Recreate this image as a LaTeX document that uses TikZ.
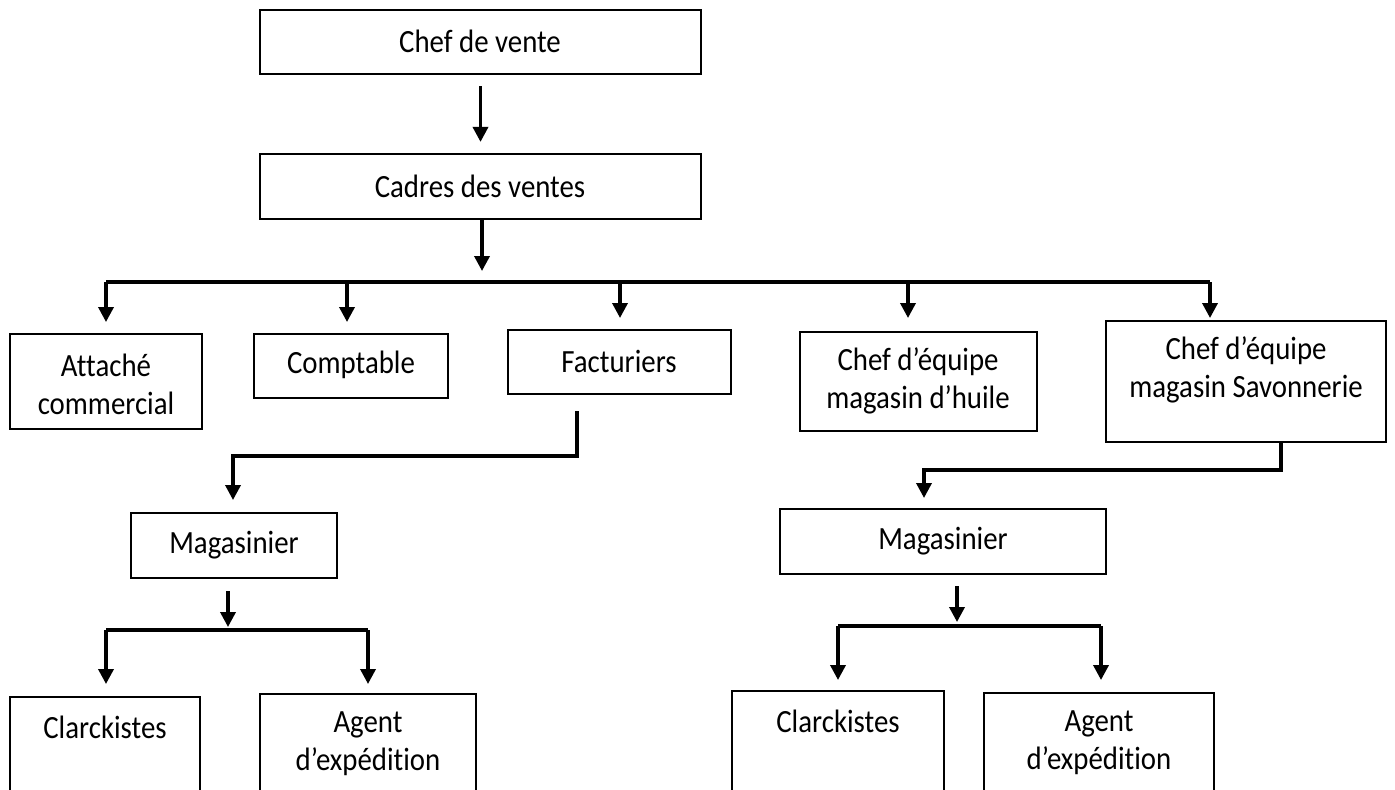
\documentclass[tikz,border=0pt]{standalone}
\usepackage{fontspec}
\setmainfont{Carlito}[Ligatures=CommonOff, FakeStretch=0.89]
\usetikzlibrary{arrows.meta,fit}
\begin{document}
\begin{tikzpicture}[x=0.5pt,y=-0.5pt,
  font=\fontsize{16.2}{19}\selectfont,
  box/.style={draw, line width=1.1pt, inner sep=0pt},
  lbl/.style={inner sep=0pt, align=center},
  link/.style={line width=1.75pt},
  arr/.style={line width=1.75pt, -{Triangle[width=7.5pt,length=7.5pt]}}]
\useasboundingbox (0,0) rectangle (1395,789);
\clip (0,0) rectangle (1395,789);

% --- boxes ---
\node[box, fit={(260,10) (701,74)}] (chef) {};
\node[box, fit={(260,154) (701,219)}] (cadres) {};
\node[box, fit={(10,334) (202,429)}] (attache) {};
\node[box, fit={(254,334) (448,398)}] (comptable) {};
\node[box, fit={(508,330) (731,394)}] (factu) {};
\node[box, fit={(800,332) (1037,431)}] (huile) {};
\node[box, fit={(1106,321) (1386,442)}] (savon) {};
\node[box, fit={(131,513) (337,578)}] (magL) {};
\node[box, fit={(780,509) (1106,574)}] (magR) {};
\node[box, fit={(10,697) (200,810)}] (clarkL) {};
\node[box, fit={(260,694) (476,810)}] (agentL) {};
\node[box, fit={(732,691) (944,810)}] (clarkR) {};
\node[box, fit={(984,693) (1214,810)}] (agentR) {};

% --- labels ---
\node[lbl] (chef-t) at (480,41) {Chef de vente};
\node[lbl] (cadres-t) at (480,186) {Cadres des ventes};
\node[lbl] (attache-t) at (106,384) {Attaché\\commercial};
\node[lbl] (comptable-t) at (351,365) {Comptable};
\node[lbl] (factu-t) at (619,361) {Facturiers};
\node[lbl] (huile-t) at (918,381) {Chef d’équipe\\magasin d’huile};
\node[lbl] (savon-t) at (1246,370) {Chef d’équipe\\magasin Savonnerie};
\node[lbl] (magL-t) at (234,545) {Magasinier};
\node[lbl] (magR-t) at (943,541) {Magasinier};
\node[lbl] (clarkL-t) at (105,727) {Clarckistes};
\node[lbl] (agentL-t) at (368,744) {Agent\\d’expédition};
\node[lbl] (clarkR-t) at (838,721) {Clarckistes};
\node[lbl] (agentR-t) at (1099,743) {Agent\\d’expédition};

% --- top chain ---
\draw[arr, shorten <=5.5pt, shorten >=5.5pt] (chef.south) -- (cadres.north);
\coordinate (hub) at (482,282);
\draw[arr, shorten >=5.5pt] (cadres.south -| hub) -- (hub);

% --- first-level bus ---
\coordinate (busW) at (106,282);
\coordinate (busE) at (1210,282);
\draw[link] (busW) -- (busE);
\coordinate (d1) at (106,322);
\coordinate (d2) at (347,322);
\coordinate (d3) at (620,318);
\coordinate (d4) at (908,318);
\coordinate (d5) at (1210,318);
\draw[arr] (busW) -- (d1);
\draw[arr] (d2 |- busW) -- (d2);
\draw[arr] (d3 |- busW) -- (d3);
\draw[arr] (d4 |- busW) -- (d4);
\draw[arr] (busE) -- (d5);

% --- left branch ---
\coordinate (fOut) at (577,411);
\coordinate (fIn) at (233,500);
\draw[arr] (fOut) |- (fIn |- 0,456) -- (fIn);
\coordinate (mLa) at (228,591);
\coordinate (mLb) at (228,627);
\draw[arr] (mLa) -- (mLb);
\coordinate (lbW) at (106,630);
\coordinate (lbE) at (368,630);
\draw[link] (lbW) -- (lbE);
\draw[arr] (lbW) -- (106,684);
\draw[arr] (lbE) -- (368,684);

% --- right branch ---
\coordinate (sOut) at (1281,442);
\coordinate (sIn) at (924,498);
\draw[arr] (sOut) |- (sIn |- 0,470) -- (sIn);
\coordinate (mRa) at (957,586);
\coordinate (mRb) at (957,622);
\draw[arr] (mRa) -- (mRb);
\coordinate (rbW) at (838,626);
\coordinate (rbE) at (1101,626);
\draw[link] (rbW) -- (rbE);
\draw[arr] (rbW) -- (838,680);
\draw[arr] (rbE) -- (1101,680);
\end{tikzpicture}
\end{document}
